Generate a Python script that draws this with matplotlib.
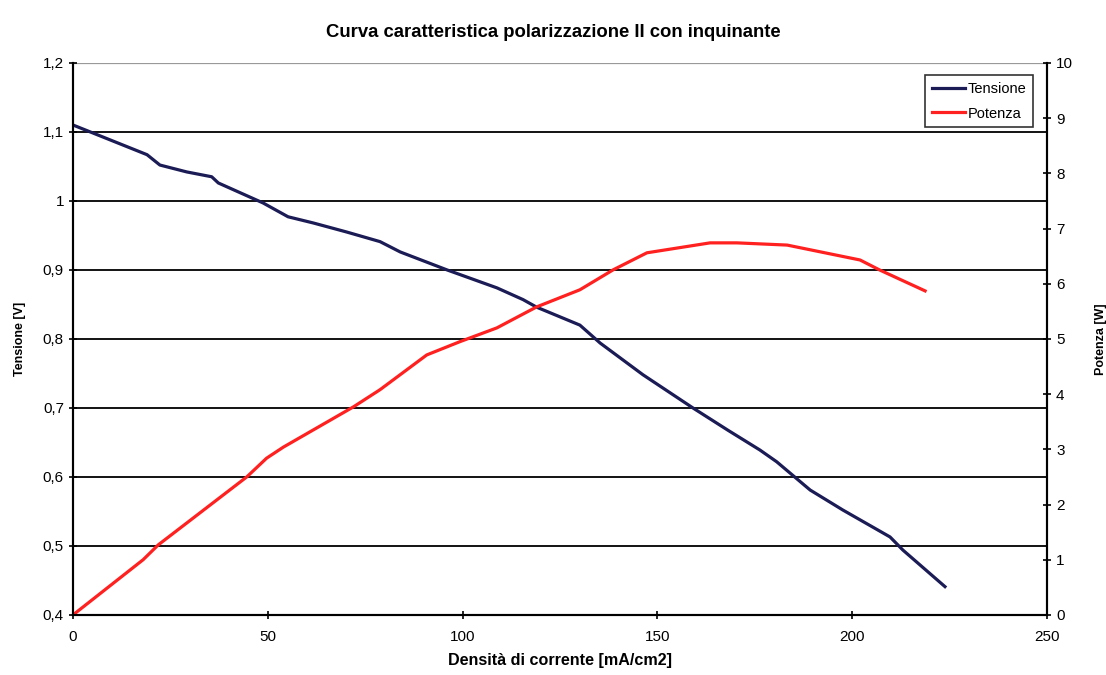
import matplotlib.pyplot as plt
from matplotlib.ticker import FuncFormatter

plt.rcParams['font.family'] = ['Liberation Sans', 'DejaVu Sans']

# Tensione curve (density mA/cm2, voltage V)
dens_v = [0, 19, 22.3, 29.2, 35.6, 37.3, 48.8, 55.2, 61.7, 70.2, 78.8, 84, 96,
          108.8, 115.5, 119, 130.1, 135.3, 146.3, 159.1, 168, 176.3, 180.6,
          189.2, 197.6, 209.7, 213, 223.8]
tensione = [1.11, 1.067, 1.052, 1.042, 1.035, 1.026, 0.997, 0.977, 0.968, 0.955,
            0.941, 0.926, 0.90, 0.874, 0.857, 0.846, 0.820, 0.794, 0.748, 0.70,
            0.668, 0.639, 0.622, 0.581, 0.552, 0.513, 0.494, 0.441]

# Potenza curve (density mA/cm2, power W)
dens_p = [0, 18, 21.9, 44.6, 49.7, 54, 72, 78.8, 90.8, 99.3, 108.8, 119, 130.1,
          138.6, 147.3, 163.5, 170.4, 183.3, 202, 207, 218.7]
potenza = [0, 1.0, 1.27, 2.5, 2.84, 3.04, 3.77, 4.08, 4.71, 4.95, 5.2, 5.58,
           5.89, 6.25, 6.56, 6.74, 6.74, 6.70, 6.43, 6.25, 5.87]

fig = plt.figure(figsize=(11.06, 6.75), dpi=100)
ax = fig.add_axes([0.066, 0.089, 0.8807, 0.8178])
ax2 = ax.twinx()

comma = FuncFormatter(lambda v, p: ('%g' % round(v, 2)).replace('.', ','))

ax.set_xlim(0, 250)
ax.set_ylim(0.4, 1.2)
ax.set_xticks(range(0, 251, 50))
ax.set_yticks([0.4, 0.5, 0.6, 0.7, 0.8, 0.9, 1.0, 1.1, 1.2])
ax.yaxis.set_major_formatter(comma)
for yv in [0.5, 0.6, 0.7, 0.8, 0.9, 1.0, 1.1]:
    ax.axhline(yv, color='black', lw=1.3, zorder=0)
ax.axhline(1.2, color='#999999', lw=1.6, zorder=0)

ax2.set_ylim(0, 10)
ax2.set_yticks(range(0, 11))

for a in (ax, ax2):
    a.spines['top'].set_visible(False)
    a.tick_params(direction='inout', length=6, width=1.2, labelsize=11)
    for s in a.spines.values():
        s.set_linewidth(1.5)
ax.tick_params(axis='x', pad=8)

l1, = ax.plot(dens_v, tensione, color='#1b1b55', lw=2.3, label='Tensione')
l2, = ax2.plot(dens_p, potenza, color='#ff2020', lw=2.3, label='Potenza')

ax.set_xlabel('Densità di corrente [mA/cm2]', fontweight='bold', fontsize=11.6, labelpad=6)
ax.set_ylabel('Tensione [V]', fontweight='bold', fontsize=9, labelpad=12)
ax2.set_ylabel('Potenza [W]', fontweight='bold', fontsize=9, labelpad=16)
fig.suptitle('Curva caratteristica polarizzazione II con inquinante',
             fontweight='bold', fontsize=13.3, y=0.965)

leg = ax2.legend(handles=[l1, l2], loc='upper right', bbox_to_anchor=(0.986, 0.978),
                 fontsize=10.5, frameon=True, fancybox=False, edgecolor='black',
                 handlelength=2.3, borderpad=0.45, labelspacing=0.75,
                 handletextpad=0.2, borderaxespad=0)
leg.get_frame().set_linewidth(1.2)

fig.savefig('out.png', dpi=100)
